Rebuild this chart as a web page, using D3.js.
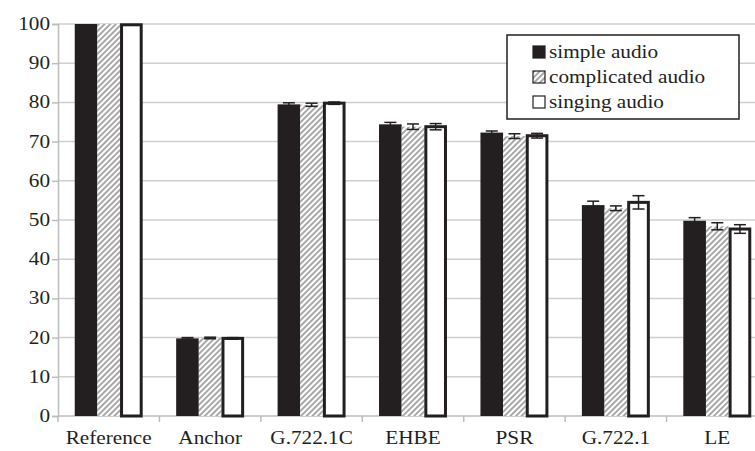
<!DOCTYPE html>
<meta charset="utf-8">
<script src="https://d3js.org/d3.v7.min.js"></script>
<style>
  body { margin: 0; background: #fff; }
</style>
<div id="chart"></div>
<script>
    // data
    var categories = ["Reference", "Anchor", "G.722.1C", "EHBE", "PSR", "G.722.1", "LE"];
    var seriesNames = ["simple audio", "complicated audio", "singing audio"];
    var simpleVals = [100, 19.8, 79.5, 74.4, 72.3, 53.8, 49.8];
    var simpleErr  = [0, 0.2, 0.4, 0.5, 0.4, 1.0, 0.8];
    var complVals  = [100, 19.9, 79.4, 73.8, 71.4, 53.0, 48.4];
    var complErr   = [0, 0.2, 0.4, 0.7, 0.6, 0.6, 0.9];
    var singVals   = [99.8, 19.8, 79.8, 73.8, 71.5, 54.5, 47.7];
    var singErr    = [0, 0.2, 0.3, 0.8, 0.6, 1.7, 1.1];
    var yTicks = [0, 10, 20, 30, 40, 50, 60, 70, 80, 90, 100];

    var series = [
        {name: seriesNames[0], vals: simpleVals, err: simpleErr},
        {name: seriesNames[1], vals: complVals, err: complErr},
        {name: seriesNames[2], vals: singVals, err: singErr}
    ];

    // pick a serif face that is really installed
    var ctx = document.createElement("canvas").getContext("2d");
    function w(f) { ctx.font = "40px " + f; return ctx.measureText("Reference audio 0123 G.722.1C").width; }
    var wMono = w("monospace"), wSans = w("sans-serif");
    var FONT = "serif";
    ["'Liberation Serif'", "'DejaVu Serif'", "'Times New Roman'", "Tinos", "'Noto Serif'", "FreeSerif"].some(function(f) {
        var ww = w(f + ", monospace");
        if (Math.abs(ww - wMono) > 0.5 && Math.abs(ww - wSans) > 0.5) { FONT = f + ", serif"; return true; }
        return false;
    });
    var FS = 18, SX = 1.18;   // the figure is a bit stretched sideways

    var W = 755, H = 451;
    var margin = {top: 24, right: -13, bottom: 35, left: 58};
    var width = W - margin.left - margin.right,
        height = H - margin.top - margin.bottom;

    var svg = d3.select("#chart").append("svg")
        .attr("width", W).attr("height", H);

    var defs = svg.append("defs");
    var pat = defs.append("pattern")
        .attr("id", "hatch")
        .attr("patternUnits", "userSpaceOnUse")
        .attr("width", 4).attr("height", 4)
        .attr("patternTransform", "rotate(45)");
    pat.append("rect").attr("width", 4).attr("height", 4).attr("fill", "#fff");
    pat.append("rect").attr("width", 2).attr("height", 4).attr("fill", "#a8a8a8");

    function label(sel, tx, ty, anchor, txt) {
        return sel.append("text")
            .attr("transform", "translate(" + tx + "," + ty + ") scale(" + SX + ",1)")
            .attr("text-anchor", anchor)
            .style("font-family", FONT)
            .style("font-size", FS + "px")
            .attr("fill", "#231f20")
            .text(txt);
    }

    var g = svg.append("g")
        .attr("transform", "translate(" + margin.left + "," + margin.top + ")");

    var x = d3.scaleBand().domain(categories).range([0, width]).padding(0);
    var y = d3.scaleLinear().domain([0, 100]).range([height, 0]);
    var x1 = d3.scaleBand().domain(seriesNames)
        .range([x.bandwidth() * 0.165, x.bandwidth() * 0.835]).padding(0);

    // gridlines
    g.selectAll(".grid").data(yTicks.filter(function(d) { return d > 0; }))
        .enter().append("line")
        .attr("x1", 0).attr("x2", width)
        .attr("y1", function(d) { return y(d); })
        .attr("y2", function(d) { return y(d); })
        .attr("stroke", "#cfcfcf").attr("stroke-width", 1.5);

    // y axis
    var yAxis = g.append("g")
        .call(d3.axisLeft(y).tickValues(yTicks).tickSize(6).tickFormat(""));
    yAxis.select(".domain").attr("stroke", "#bdbdbd").attr("stroke-width", 1.5);
    yAxis.selectAll(".tick line").attr("stroke", "#bdbdbd").attr("stroke-width", 1.5);
    yTicks.forEach(function(t) {
        label(g, -8, y(t) + 6, "end", t);
    });

    // x axis with ticks at category boundaries
    var xg = g.append("g").attr("transform", "translate(0," + height + ")");
    xg.append("line").attr("x1", 0).attr("x2", width)
        .attr("stroke", "#bdbdbd").attr("stroke-width", 1.5);
    xg.selectAll(".bt").data(categories)
        .enter().append("line")
        .attr("x1", function(d) { return x(d); })
        .attr("x2", function(d) { return x(d); })
        .attr("y1", 0).attr("y2", 6)
        .attr("stroke", "#bdbdbd").attr("stroke-width", 1.5);
    categories.forEach(function(c) {
        label(xg, x(c) + x.bandwidth() / 2, 28, "middle", c);
    });

    // bars
    series.forEach(function(s, si) {
        var sg = g.append("g");
        sg.selectAll("rect").data(categories)
            .enter().append("rect")
            .attr("x", function(d) { return x(d) + x1(s.name) + (si === 2 ? 1.5 : 0); })
            .attr("y", function(d, i) { return y(s.vals[i]); })
            .attr("width", x1.bandwidth() - (si === 2 ? 3 : 0))
            .attr("height", function(d, i) { return y(0) - y(s.vals[i]); })
            .attr("fill", si === 0 ? "#231f20" : si === 1 ? "url(#hatch)" : "#fff")
            .attr("stroke", si === 2 ? "#231f20" : "none")
            .attr("stroke-width", si === 2 ? 3 : 0);

        // error bars
        var eb = sg.selectAll(".err").data(categories.filter(function(d, i) { return s.err[i] > 0; }))
            .enter().append("g");
        eb.each(function(d) {
            var i = categories.indexOf(d);
            var cx = x(d) + x1(s.name) + x1.bandwidth() / 2;
            var e = d3.select(this);
            e.append("line").attr("x1", cx).attr("x2", cx)
                .attr("y1", y(s.vals[i] + s.err[i])).attr("y2", y(s.vals[i] - s.err[i]))
                .attr("stroke", "#231f20").attr("stroke-width", 1.5);
            [s.vals[i] + s.err[i], s.vals[i] - s.err[i]].forEach(function(v) {
                e.append("line").attr("x1", cx - 6).attr("x2", cx + 6)
                    .attr("y1", y(v)).attr("y2", y(v))
                    .attr("stroke", "#231f20").attr("stroke-width", 1.5);
            });
        });
    });

    // legend
    var lg = svg.append("g").attr("transform", "translate(507,35)");
    lg.append("rect").attr("width", 232).attr("height", 84)
        .attr("fill", "#fff").attr("stroke", "#231f20").attr("stroke-width", 1.5);
    series.forEach(function(s, si) {
        var row = lg.append("g").attr("transform", "translate(26," + (11 + si * 25) + ")");
        row.append("rect").attr("width", 12).attr("height", 12)
            .attr("fill", si === 0 ? "#231f20" : si === 1 ? "url(#hatch)" : "#fff")
            .attr("stroke", "#231f20").attr("stroke-width", 1.2);
        label(row, 16, 12, "start", s.name);
    });
</script>
